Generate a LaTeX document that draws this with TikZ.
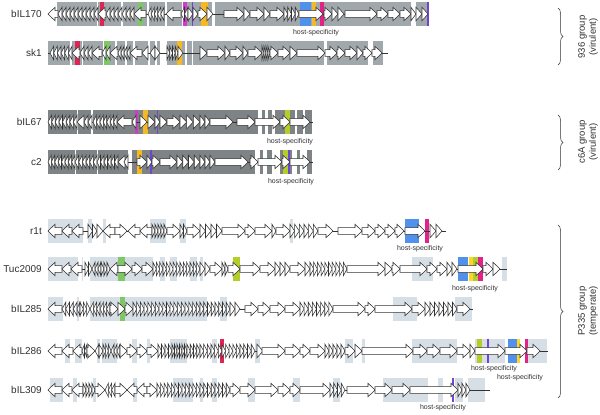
\documentclass[tikz,border=0pt]{standalone}
\usepackage{fontspec}
\setmainfont{Liberation Sans}
\usetikzlibrary{decorations.pathreplacing}
\definecolor{gA}{RGB}{160,168,172}
\definecolor{gB}{RGB}{126,132,134}
\definecolor{gC}{RGB}{214,222,230}
\definecolor{cred}{RGB}{222,35,85}
\definecolor{cmag}{RGB}{205,60,205}
\definecolor{cpur}{RGB}{110,70,210}
\definecolor{cgrn}{RGB}{125,200,100}
\definecolor{cyel}{RGB}{245,185,40}
\definecolor{cyel2}{RGB}{250,215,40}
\definecolor{cylg}{RGB}{180,205,40}
\definecolor{cblu}{RGB}{80,145,235}
\definecolor{cpink}{RGB}{225,35,135}
\definecolor{txt}{RGB}{50,50,50}
\tikzset{
  gene/.style={draw=black!80,fill=white,line width=0.55pt,line join=miter},
  gline/.style={draw=black!80,line width=0.55pt},
  lbl/.style={font=\fontsize{10}{12}\selectfont,text=txt,anchor=east,inner sep=0pt},
  hs/.style={font=\fontsize{7}{8}\selectfont,text=txt,inner sep=0pt},
  grp/.style={font=\fontsize{9.5}{11}\selectfont,text=txt,rotate=90,align=center,inner sep=0pt},
  brc/.style={draw=txt,line width=0.5pt,decorate,decoration={brace,amplitude=5pt}}
}
\newcommand\rowat[2]{\def\ry{#1}\def\boxc{#2}}
\newcommand\gbox[2]{\fill[\boxc] (#1,\ry-12) rectangle (#2,\ry+12);}
\newcommand\cbar[3]{\fill[#3] (#1,\ry-12) rectangle (#2,\ry+12);}
\newcommand\bl[2]{\draw[gline] (#1,\ry) -- (#2,\ry);}
\newcommand\gR[2]{\pgfmathsetmacro\gm{max(#1,#2-7)}\draw[gene] (#1,\ry-3.3) -- (\gm,\ry-3.3) -- (\gm,\ry-6.8) -- (#2,\ry) -- (\gm,\ry+6.8) -- (\gm,\ry+3.3) -- (#1,\ry+3.3) -- cycle;}
\newcommand\gL[2]{\pgfmathsetmacro\gm{min(#2,#1+7)}\draw[gene] (#2,\ry-3.3) -- (\gm,\ry-3.3) -- (\gm,\ry-6.8) -- (#1,\ry) -- (\gm,\ry+6.8) -- (\gm,\ry+3.3) -- (#2,\ry+3.3) -- cycle;}
\newcommand\cR[3]{\pgfmathsetmacro\cw{(#2-#1)/#3}\foreach \i in {1,...,#3}{\pgfmathsetmacro\ca{#1+(\i-1)*\cw}\pgfmathsetmacro\cb{#1+\i*\cw}\gR{\ca}{\cb}}}
\newcommand\cL[3]{\pgfmathsetmacro\cw{(#2-#1)/#3}\foreach \i in {1,...,#3}{\pgfmathsetmacro\ca{#1+(\i-1)*\cw}\pgfmathsetmacro\cb{#1+\i*\cw}\gL{\ca}{\cb}}}
\begin{document}
\begin{tikzpicture}[x=1pt,y=-1pt]
\useasboundingbox (0,0) rectangle (600,415);
\fill[white] (0,0) rectangle (600,415);
% ---------- bIL170
\rowat{14}{gA}
\foreach \a/\b in {57/97,98/121,123/147,149/165,167/182,183/200,200/212,215/411,416/428}{\gbox{\a}{\b}}
\cbar{100}{104}{cred}\cbar{138}{143}{cgrn}\cbar{183}{187}{cmag}\cbar{192}{193}{cpur}
\cbar{201}{208}{cyel}\cbar{300}{311}{cblu}\cbar{312}{316}{cyel}\cbar{320}{324}{cpink}\cbar{427}{428.5}{cpur}
\bl{48}{428}
\gL{48}{58}\cL{58}{98}{10}\gL{98}{106}\cL{106}{134}{7}\gL{134}{146}\cL{148}{164}{5}\gL{166}{181}\cL{181}{188}{2}\cR{188}{198}{2}
\gR{198}{207}\gR{207}{213}\gR{224}{244}\gR{244}{250}\gR{250}{264}\gR{264}{270}\gR{270}{284}\cR{284}{299}{4}\gR{299}{323}
\gR{324}{332}\gR{332}{338}\gR{338}{344}\gR{345}{377}\gR{377}{388}\gR{388}{400}\gR{400}{411}\gR{411}{416}\cR{416}{428}{2}
\node[lbl] (l1) at (42,14) {bIL170};
\node[hs] (h1) at (316,33) {host-specificity};
% ---------- sk1
\rowat{53}{gA}
\foreach \a/\b in {48/70,72/82,83/103,104/115,117/125,127/133,135/148,150/155,157/160,167/185,187/192,193/324,327/368,373/383}{\gbox{\a}{\b}}
\cbar{75}{80}{cred}\cbar{104}{110}{cgrn}\cbar{177}{182}{cyel}
\bl{48}{388}
\cL{50}{72}{6}\gL{72}{80}\cL{80}{92}{3}\gL{92}{102}\cL{102}{110}{2}\gL{110}{118}\cL{118}{130}{4}\gL{130}{142}\gL{142}{148}\gL{150}{155}\gR{155}{160}
\cR{167}{178}{4}\gR{178}{183}
\gR{200}{207}\gR{207}{225}\gR{225}{230}\gR{230}{243}\gR{243}{248}\gR{248}{262}\cR{262}{270}{4}\gR{270}{278}\gR{278}{290}\gR{290}{297}\gR{297}{325}
\gR{325}{337}\gR{337}{345}\gR{345}{357}\gR{357}{363}\gR{363}{372}\gR{372}{382}
\node[lbl] (l2) at (42,53) {sk1};
% ---------- bIL67
\rowat{122}{gB}
\foreach \a/\b in {48/76.5,77.5/91,93/258,262/265,268/272,275/295,297/303,305/312}{\gbox{\a}{\b}}
\cbar{135}{138}{cmag}\cbar{143}{148}{cyel}\cbar{157}{158}{cpur}\cbar{285}{290}{cylg}
\bl{48}{313}
\cL{48}{77}{8}\gL{77}{84}\cL{84}{92}{2}\cL{93}{117}{7}\gL{117}{132}\gL{132}{136}
\gR{140}{147}\gR{148}{155}\gR{155}{160}\gR{160}{167}\gR{167}{180}\cR{180}{200}{3}\cR{200}{210}{2}\gR{210}{233}\gR{237}{255}\gR{255}{280}\gR{280}{290}\gR{290}{310}
\node[lbl] (l3) at (42,122) {bIL67};
\node[hs] (h3) at (290,142) {host-specificity};
% ---------- c2
\rowat{162}{gB}
\foreach \a/\b in {48/74.5,75.5/96.5,97.5/128,132/255,260/263,267/272,280/292,297/300,307/312}{\gbox{\a}{\b}}
\cbar{137}{142}{cyel}\cbar{150}{152}{cpur}\cbar{283}{288}{cylg}\cbar{288}{290}{cpur}
\bl{48}{313}
\cL{48}{75}{8}\cL{75}{97}{6}\cL{97}{118}{6}\gL{118}{125}\gL{124}{128}
\gR{137}{147}\gR{147}{152}\gR{152}{160}\gR{160}{177}\cR{177}{200}{4}\cR{200}{215}{3}\gR{215}{248}\gR{250}{258}\gR{258}{282}\gR{282}{290}\gR{290}{310}
\node[lbl] (l4) at (42,162) {c2};
\node[hs] (h4) at (291,182) {host-specificity};
% ---------- r1t
\rowat{231}{gC}
\foreach \a/\b in {48/83,88/92,103/106,150/166,180/186,290/293}{\gbox{\a}{\b}}
\cbar{405}{419}{cblu}\cbar{425}{429}{cpink}
\bl{48}{446}
\gL{48}{62}\gL{62}{72}\gL{72}{83}\cR{88}{97}{2}\gR{97}{103}\gL{103}{115}\gR{115}{127}\gL{128}{140}\gL{140}{152}\cR{152}{167}{5}\gR{167}{180}\cR{180}{187}{2}\gR{187}{200}
\cR{200}{222}{4}\gR{222}{245}\gR{245}{255}\gR{255}{272}\gR{272}{276}\gR{276}{290}\cR{290}{318}{6}\gR{318}{333}\gR{338}{362}\gR{362}{375}\gR{375}{385}\gR{385}{395}\gR{395}{404}\gR{405}{425}\cR{430}{442}{2}
\node[lbl] (l5) at (42,231) {r1t};
\node[hs] (h5) at (420,249) {host-specificity};
% ---------- Tuc2009
\rowat{269}{gC}
\foreach \a/\b in {48/78,82/83,90/153,160/165,170/177,190/197,200/203,412/433,502/507}{\gbox{\a}{\b}}
\cbar{118}{125}{cgrn}\cbar{233}{240}{cylg}\cbar{458}{468}{cblu}\cbar{469}{473}{cyel2}\cbar{473}{478}{cylg}\cbar{478}{483}{cpink}
\bl{48}{507}
\gL{48}{62}\gL{62}{71}\gL{71}{82}\cR{85}{92}{2}\cL{92}{101}{3}\cR{101}{110}{3}\gL{110}{118}\gR{118}{132}\gR{132}{142}\gR{142}{153}\cR{153}{163}{3}\cR{163}{180}{5}\cR{180}{200}{6}
\cR{200}{210}{2}\gR{210}{222}\cR{222}{228}{2}\gR{228}{240}\gR{240}{260}\gR{260}{275}\cR{275}{290}{3}\gR{290}{305}\gR{305}{310}\cR{310}{347}{10}\gR{347}{385}\gR{385}{392}\gR{392}{400}
\gR{400}{427}\gR{427}{437}\gR{437}{447}\gR{447}{452}\gR{452}{457}\gR{458}{483}\gR{483}{493}\gR{493}{500}
\node[lbl] (l6) at (42,269) {Tuc2009};
\node[hs] (h6) at (475,289) {host-specificity};
% ---------- bIL285
\rowat{309}{gC}
\foreach \a/\b in {48/63,77/79,90/200,200/207,220/227,393/417,455/472}{\gbox{\a}{\b}}
\cbar{120}{125}{cgrn}
\bl{48}{473}
\gL{48}{62}\cL{62}{77}{4}\gL{77}{80}\cR{80}{90}{3}\cL{90}{110}{6}\gR{110}{118}\gR{118}{125}\gR{125}{133}\cR{133}{200}{18}\cR{200}{230}{8}\cR{230}{240}{2}
\gR{245}{258}\gR{258}{270}\gR{270}{285}\gR{285}{300}\cR{300}{333}{8}\gR{333}{365}\gR{365}{375}\gR{375}{412}\gR{412}{425}\gR{425}{430}\cR{430}{457}{6}\gR{457}{470}
\node[lbl] (l7) at (42,309) {bIL285};
% ---------- bIL286
\rowat{351}{gC}
\foreach \a/\b in {65/70,75/82,97/100,102/117,132/137,147/150,170/187,212/217,255/260,345/353,362/365,412/457,475/505,527/547}{\gbox{\a}{\b}}
\cbar{220}{224}{cred}\cbar{477}{482}{cylg}\cbar{487}{489}{cpur}\cbar{508}{517}{cblu}\cbar{517}{520}{cyel2}\cbar{525}{528}{cpink}
\bl{48}{548}
\gL{48}{62}\gL{62}{73}\gL{73}{82}\cL{82}{87}{2}\gR{87}{95}\gL{95}{99}\gR{99}{103}\cR{103}{111}{3}\cL{111}{120}{3}\gR{120}{127}\gR{127}{137}\gR{137}{147}\gR{147}{158}\cR{158}{172}{4}\cR{172}{187}{6}\cR{187}{200}{4}
\cR{200}{222}{6}\cR{222}{240}{5}\cR{240}{255}{4}\gR{257}{263}\gR{262}{285}\gR{285}{300}\gR{300}{310}\gR{310}{325}\cR{325}{345}{5}\gR{345}{355}\gR{355}{362}\gR{362}{413}
\gR{413}{427}\gR{427}{440}\gR{440}{457}\gR{457}{470}\gR{470}{475}\gR{475}{505}\gR{505}{527}\gR{527}{540}
\node[lbl] (l8) at (42,351) {bIL286};
\node[hs] (h8a) at (494,369) {host-specificity};
\node[hs] (h8b) at (520,378) {host-specificity};
% ---------- bIL309
\rowat{390}{gC}
\foreach \a/\b in {50/63,73/77,93/96,133/137,173/193,200/203,212/217,248/255,293/300,333/340,383/428,438/443,455/463,468/485}{\gbox{\a}{\b}}
\cbar{452}{454}{cpur}
\bl{48}{490}
\gL{48}{62}\gL{62}{72}\gL{72}{83}\cR{83}{95}{4}\gR{95}{105}\cL{105}{115}{3}\gR{115}{127}\gL{127}{137}\gL{137}{147}\gR{147}{157}\cR{157}{200}{12}\cR{200}{230}{8}
\gR{230}{240}\gR{240}{255}\gR{255}{278}\gR{278}{290}\gR{290}{300}\gR{300}{330}\cR{330}{345}{4}\gR{347}{375}\gR{375}{392}\gR{392}{410}\gR{410}{458}\cR{458}{470}{3}
\node[lbl] (l9) at (42,390) {bIL309};
\node[hs] (h9) at (443,408) {host-specificity};
% ---------- braces
\coordinate (b1t) at (558,8); \coordinate (b1b) at (558,65);
\coordinate (b2t) at (558,115); \coordinate (b2b) at (558,170);
\coordinate (b3t) at (558,225); \coordinate (b3b) at (558,398);
\draw[brc] (b1t) -- (b1b);
\draw[brc] (b2t) -- (b2b);
\draw[brc] (b3t) -- (b3b);
\node[grp] (g1) at (588,37) {936 group\\(virulent)};
\node[grp] (g2) at (588,142) {c6A group\\(virulent)};
\node[grp] (g3) at (588,311) {P335 group\\(temperate)};
\end{tikzpicture}
\end{document}
